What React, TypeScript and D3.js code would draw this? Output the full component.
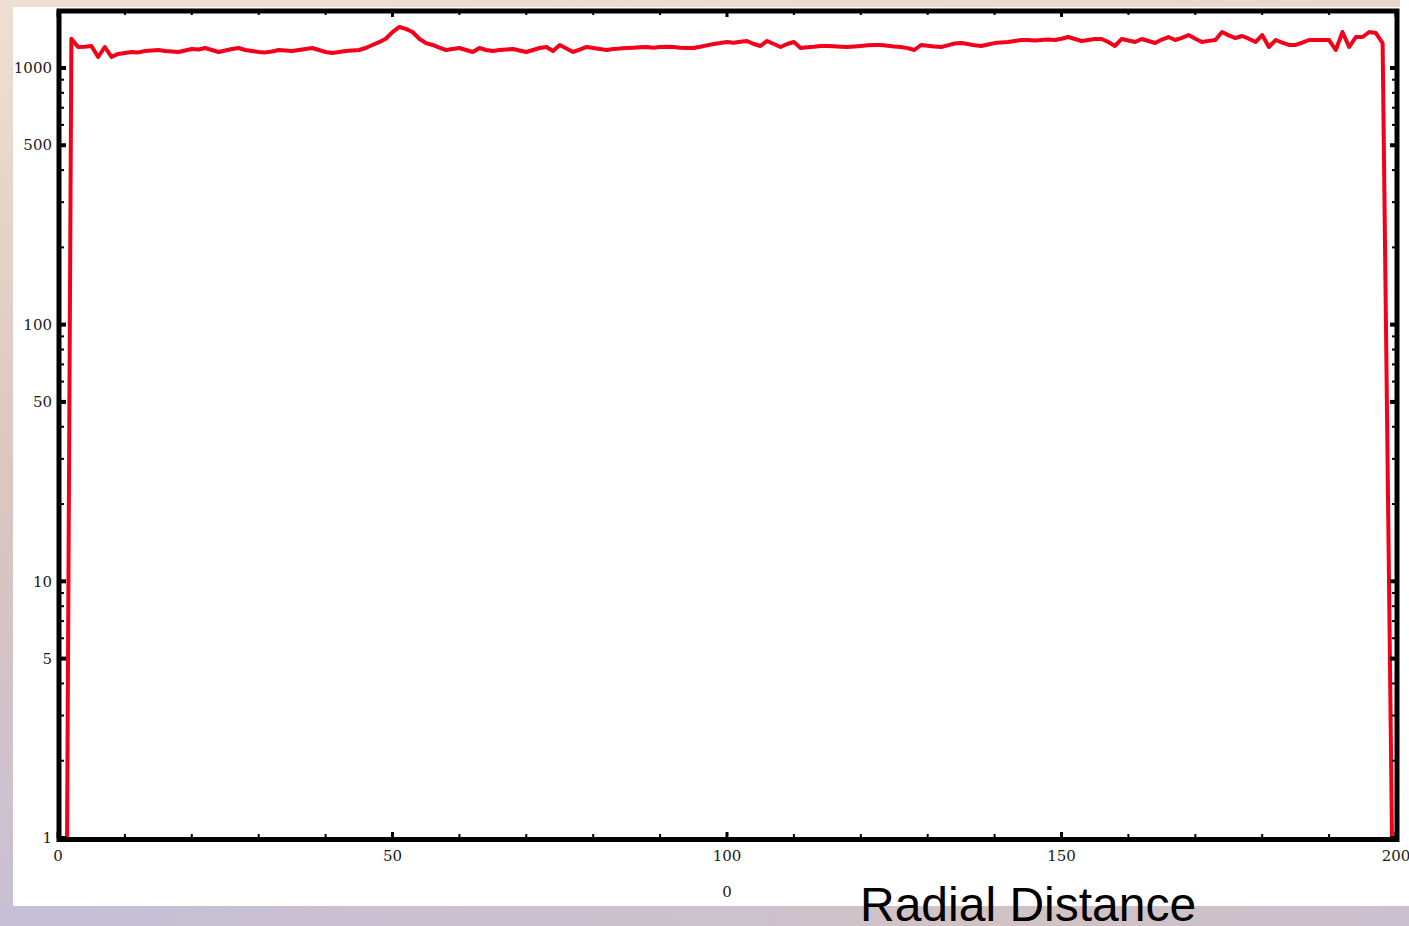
import React from "react";
import * as d3 from "d3";

// Radial profile (counts per unit of radial distance)
const radius = d3.range(0, 201);
const counts = [
  0.01, 0.02, 1300, 1207, 1210, 1218, 1104, 1207, 1104, 1134,
  1144, 1154, 1150, 1164, 1170, 1175, 1164, 1160, 1154, 1170,
  1186, 1180, 1196, 1175, 1154, 1170, 1186, 1196, 1175, 1164,
  1154, 1150, 1160, 1175, 1170, 1164, 1175, 1186, 1196, 1175,
  1154, 1144, 1154, 1164, 1170, 1175, 1196, 1229, 1260, 1300,
  1380, 1444, 1420, 1381, 1300, 1250, 1229, 1200, 1175, 1186,
  1196, 1175, 1154, 1196, 1175, 1164, 1175, 1180, 1186, 1170,
  1154, 1175, 1196, 1207, 1164, 1229, 1190, 1154, 1180, 1207,
  1196, 1186, 1175, 1186, 1190, 1196, 1200, 1205, 1207, 1200,
  1207, 1210, 1207, 1200, 1196, 1196, 1210, 1225, 1240, 1250,
  1262, 1255, 1265, 1274, 1240, 1218, 1274, 1240, 1207, 1240,
  1262, 1196, 1205, 1210, 1218, 1218, 1214, 1210, 1207, 1212,
  1218, 1225, 1229, 1229, 1220, 1212, 1207, 1195, 1175, 1229,
  1220, 1212, 1207, 1225, 1245, 1251, 1240, 1225, 1218, 1235,
  1250, 1258, 1262, 1274, 1285, 1285, 1280, 1285, 1290, 1285,
  1300, 1320, 1297, 1274, 1285, 1297, 1297, 1262, 1218, 1297,
  1280, 1262, 1297, 1274, 1251, 1290, 1320, 1285, 1310, 1344,
  1300, 1262, 1275, 1285, 1381, 1340, 1308, 1332, 1300, 1262,
  1344, 1207, 1285, 1255, 1229, 1229, 1255, 1285, 1285, 1285,
  1285, 1175, 1381, 1207, 1320, 1320, 1381, 1368, 1250, 8,
  0.045,
];

const xTicks = [0, 50, 100, 150, 200];
const xMinorTicks = [10, 20, 30, 40, 60, 70, 80, 90, 110, 120, 130, 140, 160, 170, 180, 190];
const yTicks = [1, 5, 10, 50, 100, 500, 1000];
const yMinorTicks = [2, 3, 4, 6, 7, 8, 9, 20, 30, 40, 60, 70, 80, 90, 200, 300, 400, 600, 700, 800, 900];
const xAxisExtra = "0";
const xTitle = "Radial Distance";

const W = 1409;
const H = 926;
const left = 58;
const right = 1396;
const top = 11;
const bottom = 838;

export default function App() {
  const x = d3.scaleLinear().domain([0, 200]).range([left, right]);
  const y = d3.scaleLog().domain([1, 1667]).range([bottom, top]);

  const pts = radius.map((r, i) => [r, counts[i]] as [number, number]);
  const line = d3
    .line<[number, number]>()
    .x((d) => x(d[0]))
    .y((d) => y(d[1]));

  const tickFont = { fontFamily: "'DejaVu Serif', serif", fontSize: 15, fill: "#1a1a1a" };

  return (
    <svg
      width={W}
      height={H}
      style={{ position: "absolute", left: 0, top: 0, display: "block" }}
    >
      <defs>
        <linearGradient id="bg" x1="0" y1="0" x2="0.15" y2="1">
          <stop offset="0%" stopColor="#eedfd3" />
          <stop offset="50%" stopColor="#dcc6bf" />
          <stop offset="100%" stopColor="#c7c0d5" />
        </linearGradient>
        <linearGradient id="bgBottom" x1="0" y1="0" x2="1" y2="0">
          <stop offset="0%" stopColor="#c6c0d6" />
          <stop offset="55%" stopColor="#cdc2cc" />
          <stop offset="70%" stopColor="#d2c2c4" />
          <stop offset="100%" stopColor="#cbc0cf" />
        </linearGradient>
        <clipPath id="plotClip">
          <rect x={left + 2} y={top + 2} width={right - left - 2} height={bottom - top - 2} />
        </clipPath>
      </defs>

      {/* slide background */}
      <rect x={0} y={0} width={W} height={H} fill="url(#bg)" />
      <rect x={0} y={906} width={W} height={H - 906} fill="url(#bgBottom)" />
      {/* white panel */}
      <rect x={13} y={7} width={W - 13} height={899} fill="#ffffff" />
      <rect x={1400} y={0} width={9} height={7} fill="#ffffff" />

      {/* data line */}
      <path
        d={line(pts) ?? ""}
        fill="none"
        stroke="#f5001a"
        strokeWidth={4}
        strokeLinejoin="round"
        clipPath="url(#plotClip)"
      />

      {/* frame */}
      <rect
        x={left + 1}
        y={top}
        width={right - left}
        height={bottom - top + 1.5}
        fill="none"
        stroke="#000"
        strokeWidth={5}
      />

      {/* bottom / top ticks */}
      {xTicks.map((t) => (
        <g key={"xt" + t}>
          <rect x={x(t) - 1.5} y={bottom - 6} width={3} height={6} fill="#000" />
          <rect x={x(t) - 1.5} y={top} width={3} height={6} fill="#000" />
        </g>
      ))}
      {xMinorTicks.map((t) => (
        <g key={"xm" + t}>
          <rect x={x(t) - 1} y={bottom - 4} width={2} height={4} fill="#000" />
          <rect x={x(t) - 1} y={top} width={2} height={4} fill="#000" />
        </g>
      ))}

      {/* left / right ticks */}
      {yTicks.map((t) => (
        <g key={"yt" + t}>
          <rect x={left + 1} y={y(t) - 2} width={7} height={4} fill="#000" />
          <rect x={right - 6} y={y(t) - 2} width={7} height={4} fill="#000" />
        </g>
      ))}
      {yMinorTicks.map((t) => (
        <g key={"ym" + t}>
          <rect x={left + 1} y={y(t) - 1} width={5} height={2} fill="#000" />
          <rect x={right - 4} y={y(t) - 1} width={5} height={2} fill="#000" />
        </g>
      ))}

      {/* tick labels */}
      {yTicks.map((t) => (
        <text key={"yl" + t} x={52} y={y(t)} dy="0.35em" textAnchor="end" {...tickFont}>
          {String(t)}
        </text>
      ))}
      {xTicks.map((t) => (
        <text key={"xl" + t} x={x(t)} y={856} dy="0.35em" textAnchor="middle" {...tickFont}>
          {String(t)}
        </text>
      ))}
      <text x={x(100)} y={892} dy="0.35em" textAnchor="middle" {...tickFont}>
        {xAxisExtra}
      </text>

      {/* axis title */}
      <text
        x={860}
        y={921}
        fontFamily="'Liberation Sans', Arial, sans-serif"
        fontSize={48}
        fill="#000"
      >
        {xTitle}
      </text>
    </svg>
  );
}
